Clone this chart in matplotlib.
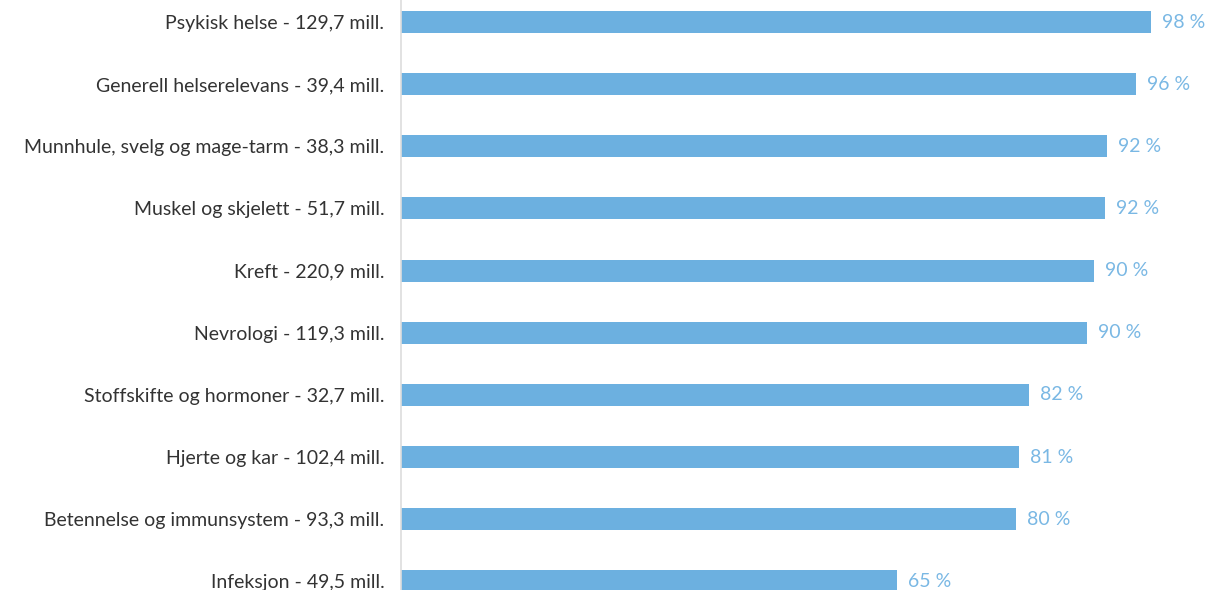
import matplotlib
matplotlib.use("Agg")
import matplotlib.pyplot as plt

categories = [
    "Psykisk helse - 129,7 mill.",
    "Generell helserelevans - 39,4 mill.",
    "Munnhule, svelg og mage-tarm - 38,3 mill.",
    "Muskel og skjelett - 51,7 mill.",
    "Kreft - 220,9 mill.",
    "Nevrologi - 119,3 mill.",
    "Stoffskifte og hormoner - 32,7 mill.",
    "Hjerte og kar - 102,4 mill.",
    "Betennelse og immunsystem - 93,3 mill.",
    "Infeksjon - 49,5 mill.",
]
values = [98.0, 96.0, 92.3, 92.0, 90.5, 89.7, 82.0, 80.75, 80.3, 64.8]
value_labels = ["98 %", "96 %", "92 %", "92 %", "90 %", "90 %", "82 %", "81 %", "80 %", "65 %"]

W, H = 1211, 590
fig = plt.figure(figsize=(W / 100, H / 100), dpi=100)
ax = fig.add_axes([401 / W, 0, (W - 401) / W, 1])

bar_color = "#6cb0e0"
pos = list(range(len(categories)))
ax.barh(pos, values, height=0.354, color=bar_color)

px_per_unit = 750 / 98
ax.set_xlim(0, (W - 401) / px_per_unit)
step = 62.15
ax.set_ylim((H - 22) / step, -22 / step)

ax.set_yticks(pos)
ax.set_yticklabels(categories, fontsize=14, color="#333333", family="Lato")
ax.tick_params(axis="y", length=0, pad=12)
ax.set_xticks([])

for s in ["top", "right", "bottom"]:
    ax.spines[s].set_visible(False)
ax.spines["left"].set_color("#dddddd")
ax.spines["left"].set_linewidth(1.2)

for p, v, lab in zip(pos, values, value_labels):
    ax.annotate(lab, xy=(v, p), xytext=(11, 0), textcoords="offset pixels",
                va="center", ha="left", fontsize=14, color="#7ab8e4", family="Lato")

fig.savefig("out.png", dpi=100)
